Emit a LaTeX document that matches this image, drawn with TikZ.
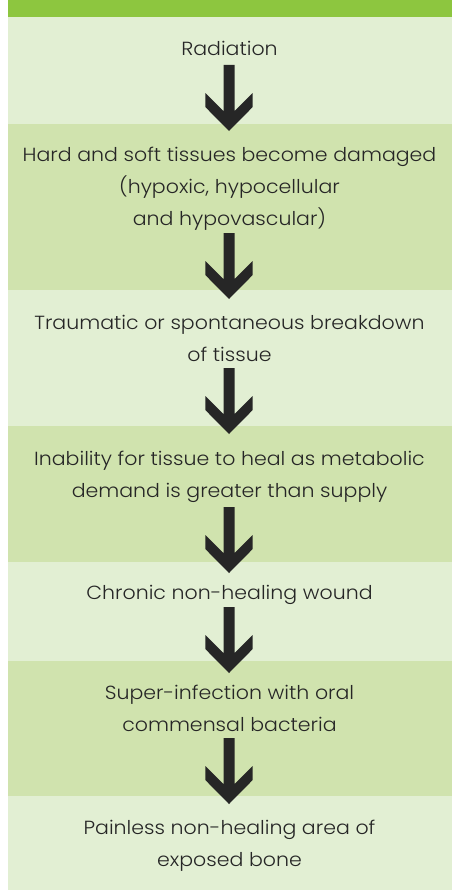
\documentclass[tikz,border=0pt]{standalone}
\usepackage{fontspec}
\setmainfont{Poppins Light}[FakeStretch=1.08]
\definecolor{topgreen}{HTML}{8DC63F}
\definecolor{lightband}{HTML}{E2EFD3}
\definecolor{midband}{HTML}{D0E3AE}
\definecolor{inkcol}{HTML}{262626}
\tikzset{
  steptext/.style={anchor=base, align=center, inner sep=0pt, text=inkcol,
    font=\fontsize{19}{32}\selectfont},
  downarrow/.pic={
    \fill[inkcol] (-5.5,0) -- (5.5,0) -- (5.5,46) -- (23.7,28) -- (23.7,42) -- (0,66)
      -- (-23.7,42) -- (-23.7,28) -- (-5.5,46) -- cycle;
  }
}
\begin{document}
\begin{tikzpicture}[x=1pt, y=-1pt]
\useasboundingbox (0,0) rectangle (453,891);
% bands
\fill[topgreen] (8,0) rectangle (452,17);
\fill[lightband] (8,17) rectangle (452,124);
\fill[midband] (8,124) rectangle (452,290);
\fill[lightband] (8,290) rectangle (452,426);
\fill[midband] (8,426) rectangle (452,562);
\fill[lightband] (8,562) rectangle (452,661);
\fill[midband] (8,661) rectangle (452,796);
\fill[lightband] (8,796) rectangle (452,890);
% texts (multi-line nodes are anchored at the baseline of their last line)
\node[steptext] (s1) at (229.5,56) {Radiation};
\node[steptext] (s2) at (229.5,225) {Hard and soft tissues become damaged\\(hypoxic, hypocellular\\and hypovascular)};
\node[steptext] (s3) at (229.5,361) {Traumatic or spontaneous breakdown\\of tissue};
\node[steptext] (s4) at (229.5,497) {Inability for tissue to heal as metabolic\\demand is greater than supply};
\node[steptext] (s5) at (229.5,599) {Chronic non-healing wound};
\node[steptext] (s6) at (229.5,731) {Super-infection with oral\\commensal bacteria};
\node[steptext] (s7) at (229.5,866) {Painless non-healing area of\\exposed bone};
% arrows
\coordinate (a1) at (229,65);
\coordinate (a2) at (229,233);
\coordinate (a3) at (229,368);
\coordinate (a4) at (229,507);
\coordinate (a5) at (229,607);
\coordinate (a6) at (229,738);
\foreach \a in {a1,a2,a3,a4,a5,a6} { \pic at (\a) {downarrow}; }
\end{tikzpicture}
\end{document}
